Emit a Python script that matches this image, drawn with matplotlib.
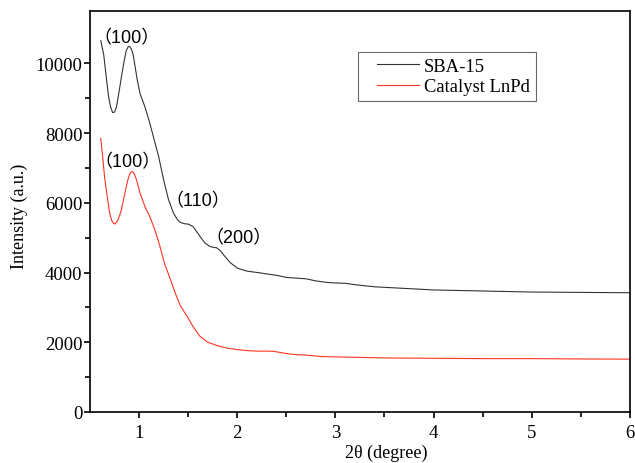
import matplotlib
matplotlib.use("Agg")
import matplotlib.pyplot as plt
from matplotlib.legend_handler import HandlerLine2D

# SBA-15 curve
x_sba = [0.61, 0.64, 0.67, 0.69, 0.71, 0.73, 0.75, 0.77, 0.80, 0.82, 0.85, 0.87,
         0.89, 0.90, 0.92, 0.94, 0.96, 0.98, 1.01, 1.06, 1.11, 1.15, 1.20, 1.25,
         1.30, 1.35, 1.39, 1.42, 1.46, 1.50, 1.55, 1.58, 1.62, 1.67, 1.72, 1.76,
         1.79, 1.83, 1.86, 1.93, 2.0, 2.05, 2.10, 2.23, 2.3, 2.4, 2.5, 2.6, 2.7,
         2.8, 2.9, 3.0, 3.1, 3.2, 3.4, 3.6, 3.8, 4.0, 4.5, 5.0, 5.5, 6.0]
y_sba = [10650, 10250, 9500, 9040, 8750, 8590, 8600, 8750, 9250, 9610, 10100, 10370,
         10480, 10490, 10420, 10250, 9900, 9550, 9130, 8750, 8280, 7850, 7320, 6660,
         6090, 5710, 5520, 5440, 5400, 5390, 5320, 5200, 5040, 4850, 4750, 4720,
         4710, 4620, 4510, 4280, 4130, 4080, 4040, 3990, 3960, 3920, 3860, 3840, 3820,
         3760, 3720, 3700, 3690, 3650, 3590, 3560, 3530, 3500, 3470, 3440, 3430, 3420]

# Catalyst LnPd curve
x_cat = [0.61, 0.63, 0.65, 0.68, 0.70, 0.72, 0.74, 0.755, 0.78, 0.80, 0.82, 0.85,
         0.87, 0.89, 0.91, 0.925, 0.94, 0.96, 0.98, 1.01, 1.06, 1.11, 1.16, 1.21,
         1.26, 1.32, 1.37, 1.42, 1.49, 1.55, 1.62, 1.70, 1.80, 1.90, 2.0, 2.1, 2.2,
         2.3, 2.37, 2.45, 2.54, 2.6, 2.71, 2.85, 3.0, 3.5, 4.0, 4.5, 5.0, 5.5, 6.0]
y_cat = [7850, 7300, 6700, 6100, 5710, 5500, 5410, 5390, 5480, 5620, 5800, 6200,
         6470, 6700, 6850, 6900, 6880, 6780, 6600, 6280, 5890, 5600, 5230, 4780,
         4250, 3800, 3400, 3050, 2740, 2450, 2170, 2000, 1900, 1830, 1790, 1760, 1745,
         1745, 1740, 1700, 1660, 1645, 1630, 1590, 1580, 1550, 1540, 1530, 1530, 1520, 1515]

# peak labels: text, x, y
peaks = [("（100）", 0.87, 10750),
         ("（100）", 0.88, 7180),
         ("（110）", 1.60, 6060),
         ("（200）", 2.01, 5000)]

serif = "Liberation Serif"
ann_font = ["Liberation Sans", "Noto Sans CJK SC"]

fig = plt.figure(figsize=(6.35, 4.64), dpi=100)
ax = fig.add_axes([0.1417, 0.110, 0.8503, 0.864])

ax.plot(x_sba, y_sba, color="#333333", lw=0.8, label="SBA-15")
ax.plot(x_cat, y_cat, color="#ff3322", lw=0.8, label="Catalyst LnPd")

for txt, xx, yy in peaks:
    ax.text(xx, yy, txt, family=ann_font, fontsize=13, ha="center", va="center")

ax.set_xlim(0.5, 6)
ax.set_ylim(0, 11500)
ax.set_xticks([1, 2, 3, 4, 5, 6])
ax.set_xticks([1.5, 2.5, 3.5, 4.5, 5.5], minor=True)
ax.set_yticks(range(0, 11000, 2000))
ax.set_yticks(range(1000, 11000, 2000), minor=True)
ax.tick_params(which="both", direction="out", width=1.2, labelsize=13.5)
ax.tick_params(which="major", length=4.5)
ax.tick_params(which="minor", length=3.5)
ax.tick_params(axis="y", which="major", pad=1)
ax.tick_params(axis="x", which="major", pad=4)
for lab in ax.get_xticklabels() + ax.get_yticklabels():
    lab.set_family(serif)
for sp in ax.spines.values():
    sp.set_linewidth(1.2)

ax.set_xlabel("2θ (degree)", family=serif, fontsize=13, labelpad=2)
ax.xaxis.label.set_x(0.548)
ax.set_ylabel("Intensity (a.u.)", family=serif, fontsize=13)
ax.yaxis.set_label_coords(-0.115, 0.49)

leg = ax.legend(loc="upper left", bbox_to_anchor=(0.4963, 0.8978), fancybox=False,
                prop={"family": serif, "size": 13.4}, handlelength=2.96,
                borderpad=0.3, labelspacing=0.2, handletextpad=0.3, borderaxespad=0,
                handler_map={plt.Line2D: HandlerLine2D(xpad=0.7)})
leg.get_frame().set_edgecolor("#444444")
leg.get_frame().set_linewidth(0.8)

fig.savefig("out.png", dpi=100)
